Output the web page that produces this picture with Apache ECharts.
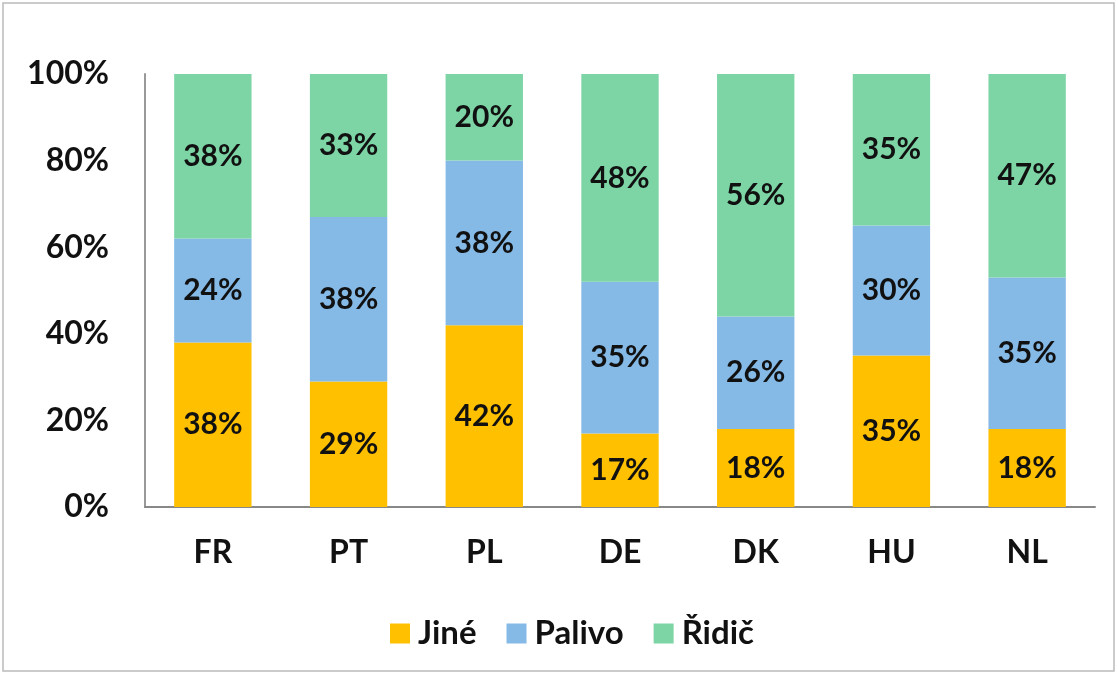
<!DOCTYPE html>
<html>
<head>
<meta charset="utf-8">
<script src="https://cdn.jsdelivr.net/npm/echarts@6/dist/echarts.min.js"></script>
<style>
  html, body { margin: 0; padding: 0; background: #fff; }
  #chart { width: 1118px; height: 676px; }
</style>
</head>
<body>
<div id="chart"></div>
<script>
  // data
  const countries = ['FR', 'PT', 'PL', 'DE', 'DK', 'HU', 'NL']
  const jine = [38, 29, 42, 17, 18, 35, 18]
  const palivo = [24, 38, 38, 35, 26, 30, 35]
  const ridic = [38, 33, 20, 48, 56, 35, 47]
  const yTicks = [0, 20, 40, 60, 80, 100]

  const font = 'Lato, "Open Sans", sans-serif'
  const chart = echarts.init(document.getElementById('chart'))

  const mkSerie = (name, data, color) => ({
    name: name,
    type: 'bar',
    stack: 'all',
    barWidth: '57%',
    data: data,
    itemStyle: { color: color },
    label: {
      show: true,
      position: 'inside',
      formatter: '{c}%',
      color: '#111',
      fontFamily: font,
      fontWeight: 'bold',
      fontSize: 30
    }
  })

  chart.setOption({
    animation: false,
    textStyle: { fontFamily: font },
    grid: { left: 145, right: 23, top: 74, bottom: 169 },
    legend: {
      top: 612,
      left: 385,
      itemWidth: 20,
      itemHeight: 20,
      itemGap: 30,
      icon: 'rect',
      textStyle: { fontSize: 33, fontWeight: 'bold', color: '#111', fontFamily: font, padding: [0, 0, 0, 3] },
      data: ['Jiné', 'Palivo', 'Řidič']
    },
    xAxis: {
      type: 'category',
      data: countries,
      axisTick: { show: false },
      axisLine: { lineStyle: { color: '#888', width: 2 } },
      axisLabel: { margin: 30, fontSize: 32, fontWeight: 'bold', color: '#111', fontFamily: font }
    },
    yAxis: {
      type: 'value',
      min: yTicks[0],
      max: yTicks[yTicks.length - 1],
      interval: 20,
      splitLine: { show: false },
      axisTick: { show: false },
      axisLine: { show: true, lineStyle: { color: '#999', width: 2 } },
      axisLabel: { margin: 36, formatter: '{value}%', fontSize: 32, fontWeight: 'bold', color: '#111', fontFamily: font }
    },
    graphic: [{
      type: 'rect',
      shape: { x: 3, y: 3, width: 1111, height: 668 },
      style: { fill: null, stroke: '#bbb', lineWidth: 1.5 }
    }],
    series: [
      mkSerie('Jiné', jine, '#FFC000'),
      mkSerie('Palivo', palivo, '#85B9E6'),
      mkSerie('Řidič', ridic, '#7DD5A6')
    ]
  })
</script>
</body>
</html>
